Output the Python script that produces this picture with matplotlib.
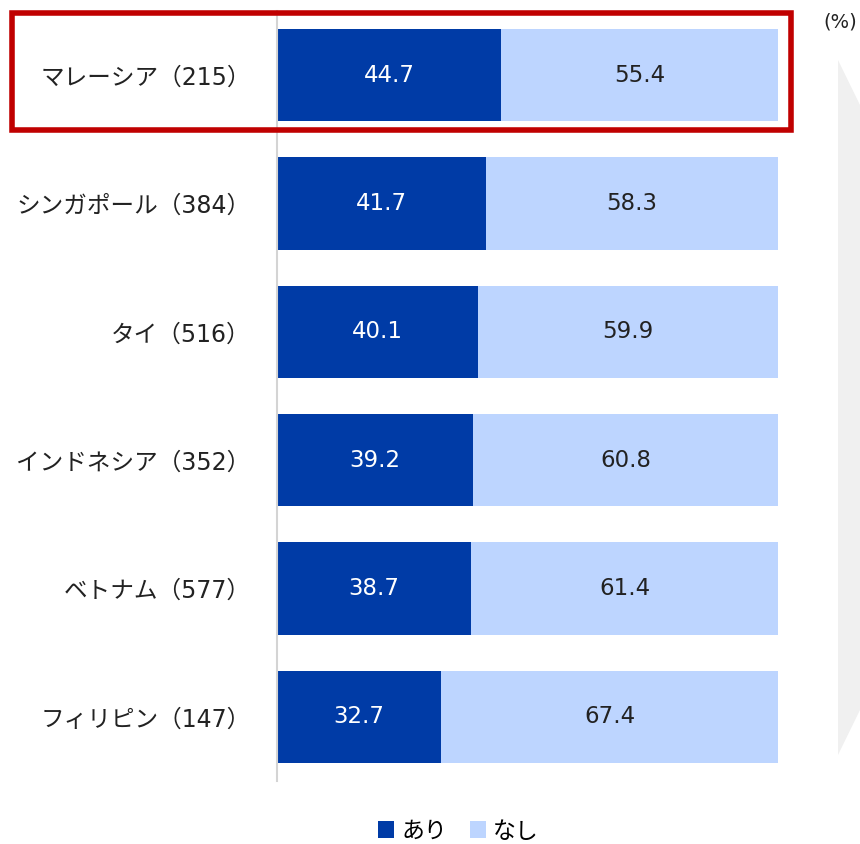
import matplotlib.pyplot as plt
from matplotlib.patches import Rectangle, Polygon

plt.rcParams['font.family'] = ['DejaVu Sans', 'Noto Sans CJK JP']

countries = ['マレーシア（215）', 'シンガポール（384）', 'タイ（516）',
             'インドネシア（352）', 'ベトナム（577）', 'フィリピン（147）']
ari = [44.7, 41.7, 40.1, 39.2, 38.7, 32.7]
nashi = [55.4, 58.3, 59.9, 60.8, 61.4, 67.4]

dark = '#003BA6'
light = '#BDD5FF'

W, H = 860, 844
fig = plt.figure(figsize=(8.6, 8.44), dpi=100)

# axes placed in pixel terms
ax = fig.add_axes([277 / W, 1 - 781 / H, (778 - 277) / W, (781 - 11) / H])
ypos = list(range(len(countries)))
ax.barh(ypos, ari, height=0.72, color=dark, label='あり')
ax.barh(ypos, nashi, left=ari, height=0.72, color=light, label='なし')

for i in ypos:
    ax.text(ari[i] / 2, i, f'{ari[i]:.1f}', ha='center', va='center',
            color='white', fontsize=16.5)
    ax.text(ari[i] + nashi[i] / 2, i, f'{nashi[i]:.1f}', ha='center',
            va='center', color='#222222', fontsize=16.5)

ax.set_xlim(0, 100)
ax.set_ylim(len(countries) - 0.5, -0.5)
ax.set_yticks(ypos)
ax.set_yticklabels(countries, fontsize=17, color='#222222')
ax.tick_params(axis='y', length=0, pad=19)
ax.set_xticks([])
for s in ['top', 'right', 'bottom']:
    ax.spines[s].set_visible(False)
ax.spines['left'].set_color('#D4D4D4')
ax.spines['left'].set_linewidth(1.5)

# highlight box around first row
fig.patches.append(Rectangle((12 / W, 1 - 130 / H), (791 - 12) / W, (130 - 13) / H,
                             transform=fig.transFigure, fill=False,
                             edgecolor='#C00000', linewidth=4))

# light gray arrow shape on the right
fig.patches.append(Polygon([(838 / W, 1 - 60 / H), (860 / W, 1 - 105 / H),
                            (860 / W, 1 - 710 / H), (838 / W, 1 - 755 / H)],
                           closed=True, transform=fig.transFigure,
                           facecolor='#F0F0F0', edgecolor='none'))

fig.text(840 / W, 1 - 22 / H, '(%)', ha='center', va='center', fontsize=14,
         color='#222222')

fig.legend(loc='center', bbox_to_anchor=(0.533, 1 - 831 / H), ncol=2,
           frameon=False, fontsize=16.5, handlelength=0.7, handleheight=0.7,
           handletextpad=0.3, columnspacing=1.0)

fig.savefig('out.png', dpi=100)
